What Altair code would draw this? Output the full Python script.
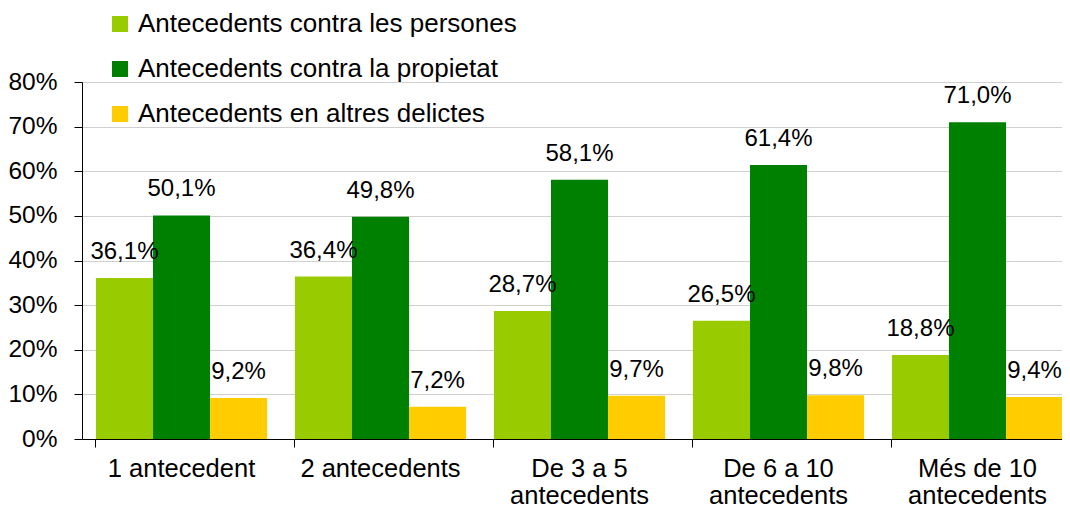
import altair as alt
import pandas as pd

categories = ["1 antecedent", "2 antecedents", "De 3 a 5 antecedents",
              "De 6 a 10 antecedents", "Més de 10 antecedents"]
series = ["Antecedents contra les persones", "Antecedents contra la propietat",
          "Antecedents en altres delictes"]
colors = ["#99CC00", "#008000", "#FFCC00"]
persones = [36.1, 36.4, 28.7, 26.5, 18.8]
propietat = [50.1, 49.8, 58.1, 61.4, 71.0]
altres = [9.2, 7.2, 9.7, 9.8, 9.4]
y_ticks = [0, 10, 20, 30, 40, 50, 60, 70, 80]

rows = []
for i, c in enumerate(categories):
    for s, vals in zip(series, [persones, propietat, altres]):
        rows.append({"cat": c, "serie": s, "v": vals[i]})
df = pd.DataFrame(rows)

FONT = "Liberation Sans"

x = alt.X("cat:N", sort=categories, title=None,
          scale=alt.Scale(paddingInner=0.14, paddingOuter=0.07),
          axis=alt.Axis(labelAngle=0, labelFontSize=25.5, labelColor="black",
                        labelFont=FONT, labelPadding=9, labelLineHeight=27,
                        labelExpr="length(datum.label) > 14 ? [substring(datum.label, 0, length(datum.label) - 12), 'antecedents'] : datum.label",
                        bandPosition=0, tickSize=8, tickColor="black",
                        domainColor="black", grid=False))
xo = alt.XOffset("serie:N", sort=series,
                 scale=alt.Scale(paddingInner=0, paddingOuter=0))
y = alt.Y("v:Q", title=None,
          scale=alt.Scale(domain=[0, 80]),
          axis=alt.Axis(values=y_ticks, labelExpr="datum.value + '%'",
                        labelFontSize=24.5, labelColor="black", labelFont=FONT,
                        labelPadding=17, tickSize=8, tickColor="black",
                        domainColor="black", gridColor="#d0d0d0"))

bars = alt.Chart(df).mark_bar().encode(
    x=x, xOffset=xo, y=y,
    color=alt.Color("serie:N", sort=series,
                    scale=alt.Scale(domain=series, range=colors),
                    legend=alt.Legend(title=None, orient="none", legendX=25,
                                      legendY=-71, direction="vertical",
                                      symbolType="square", symbolSize=256,
                                      symbolStrokeWidth=0, labelFontSize=26,
                                      labelFont=FONT, labelColor="black",
                                      labelLimit=600, labelOffset=5,
                                      rowPadding=19)),
)

text = alt.Chart(df).transform_calculate(
    lbl="replace(format(datum.v, '.1f'), '.', ',') + '%'"
).mark_text(fontSize=24, font=FONT, color="black", baseline="alphabetic",
            dy=-19).encode(x=x, xOffset=xo, y=y, text="lbl:N")

chart = alt.layer(bars, text).properties(
    width=995, height=357,
    autosize=alt.AutoSizeParams(type="none"),
    padding={"left": 74, "top": 74, "right": -15, "bottom": 73},
).configure_view(stroke=None)

chart.save("out.html", embed_options={"renderer": "svg", "actions": False})
